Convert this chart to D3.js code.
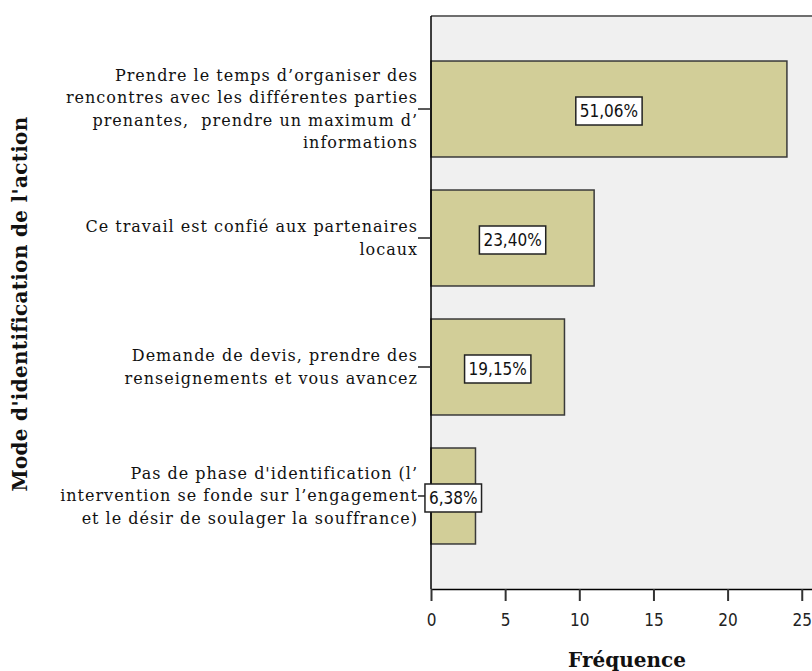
<!DOCTYPE html>
<html>
<head>
<meta charset="utf-8">
<script src="https://cdn.jsdelivr.net/npm/d3@7"></script>
<style>
  html, body { margin: 0; padding: 0; background: #fff; }
  svg { display: block; }
</style>
</head>
<body>
<div id="container"></div>
<script>
// data
const categories = [
    "Prendre le temps d’organiser des\nrencontres avec les différentes parties\nprenantes,  prendre un maximum d’\ninformations",
    "Ce travail est confié aux partenaires\nlocaux",
    "Demande de devis, prendre des\nrenseignements et vous avancez",
    "Pas de phase d'identification (l’\nintervention se fonde sur l’engagement\net le désir de soulager la souffrance)"
];
const frequencies = [24, 11, 9, 3];
const xTicks = [0, 5, 10, 15, 20, 25];
const xTitle = "Fréquence";
const yTitle = "Mode d'identification de l'action";

const w = 812, h = 671;
const plotLeft = 431, plotTop = 16, plotBottom = 589, plotRight = 840;
const serif = "'DejaVu Serif', 'Liberation Serif', serif";
const sans = "'DejaVu Sans Condensed', 'DejaVu Sans', sans-serif";

const total = d3.sum(frequencies);
const pct = v => (v / total * 100).toFixed(2).replace('.', ',') + '%';

const svg = d3.select("#container")
    .append("svg")
    .attr("width", w)
    .attr("height", h);

const xScale = d3.scaleLinear()
    .domain([0, 26])
    .range([plotLeft, plotLeft + 26 * 14.83]);

const yScale = d3.scaleBand()
    .domain(categories)
    .range([plotTop, plotBottom])
    .paddingInner(0.256)
    .paddingOuter(0.349);

// plot background + frame
svg.append("rect")
    .attr("x", plotLeft).attr("y", plotTop)
    .attr("width", plotRight - plotLeft).attr("height", plotBottom - plotTop)
    .attr("fill", "#f0f0f0");
svg.append("line")
    .attr("x1", plotLeft).attr("x2", plotRight)
    .attr("y1", plotTop).attr("y2", plotTop)
    .attr("stroke", "#6e6e6e").attr("stroke-width", 2);

// bars
svg.selectAll("rect.bar")
    .data(frequencies)
    .enter()
    .append("rect")
    .attr("class", "bar")
    .attr("x", xScale(0))
    .attr("y", (d, i) => yScale(categories[i]))
    .attr("width", d => xScale(d) - xScale(0))
    .attr("height", yScale.bandwidth())
    .attr("fill", "#d2ce98")
    .attr("stroke", "#3a3a3a")
    .attr("stroke-width", 1.5);

// x axis
const xAxis = d3.axisBottom(xScale)
    .tickValues(xTicks)
    .tickSize(12)
    .tickSizeOuter(0);
const gx = svg.append("g")
    .attr("id", "x-axis")
    .attr("transform", "translate(0," + plotBottom + ")")
    .call(xAxis);
gx.select(".domain").attr("stroke", "#000").attr("stroke-width", 1.5);
gx.selectAll(".tick line").attr("stroke", "#333").attr("stroke-width", 2);
gx.selectAll(".tick text")
    .attr("dy", "0")
    .attr("y", 37)
    .style("font-family", sans)
    .style("font-stretch", "condensed")
    .style("font-size", "17px")
    .attr("fill", "#222");

// y axis (category ticks)
const yAxis = d3.axisLeft(yScale).tickSize(13).tickSizeOuter(0).tickFormat("");
const gy = svg.append("g")
    .attr("id", "y-axis")
    .attr("transform", "translate(" + plotLeft + ",0)")
    .call(yAxis);
gy.select(".domain").attr("stroke", "#000").attr("stroke-width", 1.5)
    .attr("d", "M0," + plotTop + "V" + plotBottom);
gy.selectAll(".tick line").attr("stroke", "#222").attr("stroke-width", 1.5);

// category labels (multi-line, right aligned)
const lineH = 22.5;
const catLabels = svg.append("g").attr("id", "cat-labels");
categories.forEach(c => {
    const lines = c.split("\n");
    const cy = yScale(c) + yScale.bandwidth() / 2;
    const t = catLabels.append("text")
        .attr("text-anchor", "end")
        .style("font-family", serif)
        .style("font-size", "16px")
        .style("letter-spacing", "1px")
        .style("white-space", "pre")
        .attr("fill", "#111");
    lines.forEach((ln, k) => {
        t.append("tspan")
            .attr("x", 418)
            .attr("y", cy + (k - (lines.length - 1) / 2) * lineH + 5.5)
            .text(ln);
    });
});

// percentage boxes
frequencies.forEach((d, i) => {
    const cx = (xScale(0) + xScale(d)) / 2;
    const cy = yScale(categories[i]) + yScale.bandwidth() / 2 + 2;
    const g = svg.append("g").attr("class", "pct");
    const txt = g.append("text")
        .attr("x", cx).attr("y", cy + 6)
        .attr("text-anchor", "middle")
        .style("font-family", sans)
        .style("font-stretch", "condensed")
        .style("font-size", "17px")
        .attr("fill", "#111")
        .text(pct(d));
    const bb = txt.node().getBBox();
    g.insert("rect", "text")
        .attr("x", bb.x - 4).attr("y", cy - 14)
        .attr("width", bb.width + 8).attr("height", 28)
        .attr("fill", "#fff")
        .attr("stroke", "#222").attr("stroke-width", 1.5);
});

// axis titles
svg.append("text")
    .attr("x", 627)
    .attr("y", 667)
    .attr("text-anchor", "middle")
    .style("font-family", serif)
    .style("font-weight", "bold")
    .style("font-size", "20px")
    .attr("fill", "#111")
    .text(xTitle);

svg.append("text")
    .attr("transform", "translate(27," + 304 + ") rotate(-90)")
    .attr("text-anchor", "middle")
    .style("font-family", serif)
    .style("font-weight", "bold")
    .style("font-size", "20px")
    .style("letter-spacing", "0.3px")
    .attr("fill", "#111")
    .text(yTitle);
</script>
</body>
</html>
